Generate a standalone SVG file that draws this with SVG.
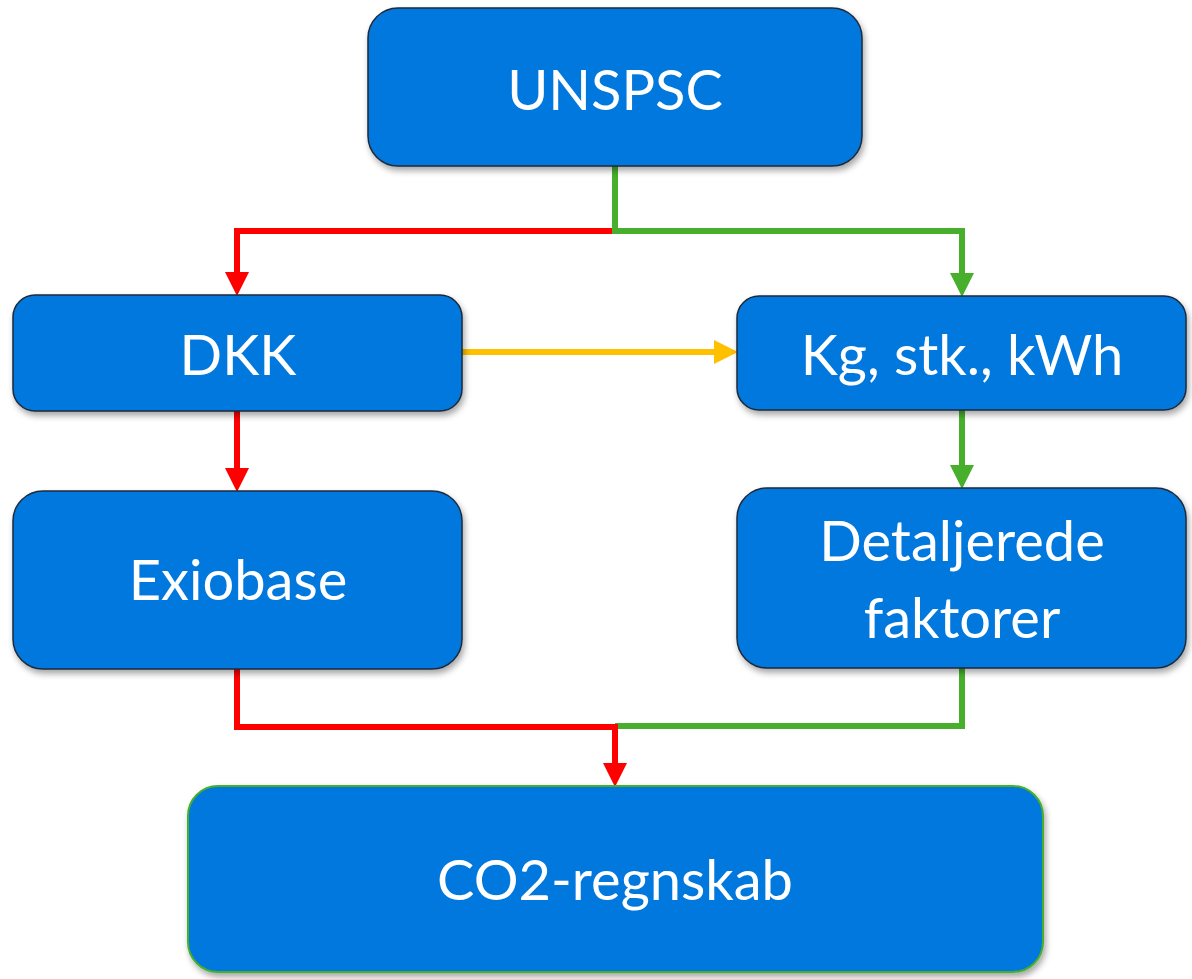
<svg xmlns="http://www.w3.org/2000/svg" width="1192" height="979" viewBox="0 0 1192 979">
<style>
.box{fill:#0478DE;stroke:#1E2A3A;stroke-width:1.5;filter:url(#sh)}
.lbl{fill:#fff;font-family:Lato,"Open Sans",sans-serif;font-size:56px;text-anchor:middle}
.c{fill:none;stroke-width:6;stroke-linejoin:miter}
.r{stroke:#FF0000}.g{stroke:#47AF2B}.y{stroke:#FFC000}
</style>
<defs>
<filter id="sh" x="-10%" y="-10%" width="120%" height="130%">
<feDropShadow dx="2" dy="4" stdDeviation="3" flood-color="#000" flood-opacity="0.35"/>
</filter>
<marker id="ar" markerUnits="userSpaceOnUse" markerWidth="24" markerHeight="24" refX="11" refY="12" orient="auto" viewBox="0 0 24 24"><path d="M0,0 L24,12 L0,24 z" fill="#FF0000"/></marker>
<marker id="ag" markerUnits="userSpaceOnUse" markerWidth="24" markerHeight="24" refX="11" refY="12" orient="auto" viewBox="0 0 24 24"><path d="M0,0 L24,12 L0,24 z" fill="#47AF2B"/></marker>
<marker id="ay" markerUnits="userSpaceOnUse" markerWidth="24" markerHeight="24" refX="11" refY="12" orient="auto" viewBox="0 0 24 24"><path d="M0,0 L24,12 L0,24 z" fill="#FFC000"/></marker>
</defs>
<g id="connectors">
<path class="c r" d="M615,231 H237 V283" marker-end="url(#ar)"/>
<path class="c g" d="M615,166 V231 H962 V284" marker-end="url(#ag)"/>
<path class="c y" d="M462,352 H725" marker-end="url(#ay)"/>
<path class="c r" d="M237,411 V479" marker-end="url(#ar)"/>
<path class="c g" d="M962,410 V476" marker-end="url(#ag)"/>
<path class="c g" d="M962,668 V726 H615"/>
<path class="c r" d="M237,669 V727 H615 V774" marker-end="url(#ar)"/>
</g>
<g id="n-unspsc"><rect class="box" x="368" y="8" width="494" height="158" rx="30"/><text class="lbl" x="615" y="110">UNSPSC</text></g>
<g id="n-dkk"><rect class="box" x="13" y="295" width="449" height="116" rx="22"/><text class="lbl" x="238" y="375">DKK</text></g>
<g id="n-kg"><rect class="box" x="737" y="296" width="449" height="114" rx="22"/><text class="lbl" x="962" y="375">Kg, stk., kWh</text></g>
<g id="n-exiobase"><rect class="box" x="13" y="491" width="449" height="178" rx="30"/><text class="lbl" x="238" y="600">Exiobase</text></g>
<g id="n-detaljerede"><rect class="box" x="737" y="488" width="449" height="180" rx="30"/><text class="lbl" x="962" y="561">Detaljerede</text><text class="lbl" x="962" y="638">faktorer</text></g>
<g id="n-co2"><rect class="box" x="188" y="786" width="855" height="186" rx="30" style="stroke:#47AF2B;stroke-width:2"/><text class="lbl" x="615" y="900">CO2-regnskab</text></g>
</svg>
